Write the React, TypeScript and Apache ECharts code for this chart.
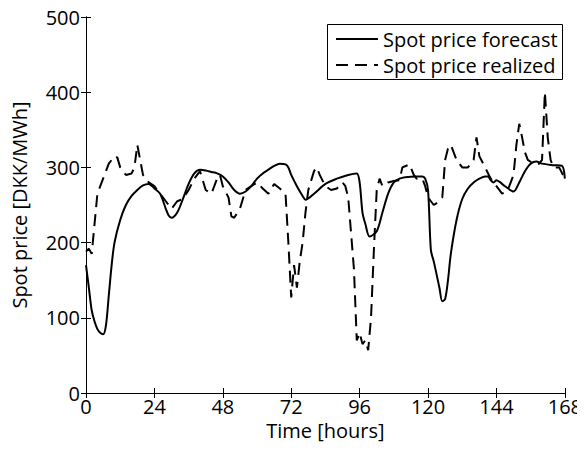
import React, { useEffect, useRef } from "react";
import * as echarts from "echarts";

const xTicks = [0, 24, 48, 72, 96, 120, 144, 168];
const yTicks = [0, 100, 200, 300, 400, 500];

const forecastHours = [0, 1, 2, 3, 4, 5, 6, 7, 8, 9, 10, 12, 14, 16, 18, 20, 22, 24, 26, 28, 29, 30, 32, 34, 36, 38, 40, 42, 44, 46, 48, 50, 52, 54, 56, 58, 60, 62, 64, 66, 68, 70, 71, 72, 74, 76, 77, 80, 84, 88, 92, 95, 96, 97, 98, 99.5, 102, 104, 106, 108, 110, 112, 116, 118, 119, 120, 121, 122, 124, 125, 126, 127, 128, 130, 132, 134, 136, 138, 140, 141, 142, 143, 144, 145, 147, 150, 152, 154, 156, 158, 160, 164, 167, 168];
const forecastValues = [170, 140, 110, 95, 85, 80, 78, 90, 130, 170, 200, 230, 250, 262, 270, 276, 278, 272, 265, 245, 236, 233, 240, 258, 278, 292, 297, 296, 294, 292, 288, 280, 270, 265, 268, 275, 285, 292, 297, 302, 305, 304, 300, 290, 275, 262, 257, 265, 278, 285, 290, 292, 280, 240, 225, 208, 215, 240, 265, 280, 285, 287, 288, 288, 285, 270, 190, 175, 140, 122, 125, 150, 185, 230, 258, 272, 280, 285, 288, 288, 283, 280, 283, 281, 275, 268, 280, 295, 305, 308, 305, 303, 302, 285];

const realizedHours = [0, 1, 2, 3, 4, 5, 6, 8, 10, 11, 12, 14, 16, 17, 18, 19, 20, 22, 24, 26, 28, 30, 32, 34, 36, 38, 40, 42, 44, 46, 47, 48, 50, 51, 52, 54, 56, 58, 60, 62, 64, 66, 68, 70, 71, 72, 73, 74, 75, 76, 77, 78, 80, 81, 82, 84, 86, 88, 90, 91, 92, 94, 95, 96, 97, 98, 99, 100, 101, 102, 103, 104, 106, 108, 110, 111, 113.5, 115, 116, 118, 119, 120, 121, 122, 124, 125, 126, 127, 128, 129, 130, 132, 134, 136, 137, 138, 140, 142, 144, 146, 148, 150, 151, 152, 153, 154, 155, 157, 159, 160, 161, 162, 163, 164, 166, 168];
const realizedValues = [188, 192, 185, 225, 265, 275, 285, 305, 315, 313, 300, 290, 292, 300, 330, 310, 290, 280, 275, 265, 255, 245, 255, 258, 270, 285, 295, 270, 265, 285, 290, 275, 260, 235, 233, 245, 270, 275, 280, 272, 265, 278, 272, 265, 200, 127, 170, 140, 175, 200, 240, 270, 295, 300, 290, 275, 270, 272, 280, 275, 260, 165, 70, 80, 65, 70, 57, 100, 190, 270, 285, 275, 280, 282, 283, 300, 304, 290, 285, 285, 275, 260, 255, 250, 255, 260, 310, 325, 330, 320, 310, 300, 300, 310, 340, 315, 300, 285, 275, 265, 270, 290, 330, 358, 340, 320, 310, 305, 305, 310, 400, 340, 310, 300, 300, 285];

const seriesNames = ["Spot price forecast", "Spot price realized"];

const FONT = "Open Sans";
const FS = 20;

export default function App() {
  const ref = useRef<HTMLDivElement>(null);
  useEffect(() => {
    if (!ref.current) return;
    const chart = echarts.init(ref.current, undefined, { renderer: "svg" });
    const forecast = forecastHours.map((h, i) => [h, forecastValues[i]]);
    const realized = realizedHours.map((h, i) => [h, realizedValues[i]]);
    const axisCommon = {
      type: "value" as const,
      axisLine: { show: true, lineStyle: { color: "#000", width: 1 } },
      axisTick: { show: true, inside: true, length: 5, lineStyle: { color: "#000" } },
      splitLine: { show: false },
    };
    chart.setOption({
      animation: false,
      backgroundColor: "#fff",
      grid: { left: 86, right: 16, top: 17, bottom: 57, containLabel: false },
      xAxis: [
        {
          ...axisCommon,
          min: xTicks[0],
          max: xTicks[xTicks.length - 1],
          interval: 24,
          position: "bottom",
          axisLabel: { color: "#000", fontSize: FS, fontFamily: FONT, margin: 3 },
          name: "Time [hours]",
          nameLocation: "middle",
          nameGap: 26,
          nameTextStyle: { color: "#000", fontSize: FS, fontFamily: FONT },
        },
        {
          ...axisCommon,
          min: xTicks[0],
          max: xTicks[xTicks.length - 1],
          interval: 24,
          position: "top",
          axisLabel: { show: false },
        },
      ],
      yAxis: [
        {
          ...axisCommon,
          min: yTicks[0],
          max: yTicks[yTicks.length - 1],
          interval: 100,
          position: "left",
          axisLabel: { color: "#000", fontSize: FS, fontFamily: FONT, margin: 6 },
          name: "Spot price [DKK/MWh]",
          nameLocation: "middle",
          nameGap: 57,
          nameTextStyle: { color: "#000", fontSize: FS, fontFamily: FONT },
        },
        {
          ...axisCommon,
          min: yTicks[0],
          max: yTicks[yTicks.length - 1],
          interval: 100,
          position: "right",
          axisLabel: { show: false },
        },
      ],
      series: [
        {
          name: seriesNames[0],
          type: "line",
          data: forecast,
          showSymbol: false,
          smooth: 0.3,
          lineStyle: { color: "#000", width: 2 },
        },
        {
          name: seriesNames[1],
          type: "line",
          data: realized,
          showSymbol: false,
          lineStyle: { color: "#000", width: 2, type: [12, 7] },
        },
      ],
      graphic: [
        {
          type: "rect",
          shape: { x: 327.5, y: 24.5, width: 235, height: 55 },
          style: { fill: "#fff", stroke: "#000", lineWidth: 1 },
          z: 100,
        },
        {
          type: "line",
          shape: { x1: 336, y1: 39, x2: 378, y2: 39 },
          style: { stroke: "#000", lineWidth: 2 },
          z: 101,
        },
        {
          type: "line",
          shape: { x1: 336, y1: 65, x2: 378, y2: 65 },
          style: { stroke: "#000", lineWidth: 2, lineDash: [12, 7] },
          z: 101,
        },
        {
          type: "text",
          x: 383,
          y: 39,
          style: { text: seriesNames[0], fill: "#000", fontSize: FS, fontFamily: FONT, verticalAlign: "middle" },
          z: 101,
        },
        {
          type: "text",
          x: 383,
          y: 65,
          style: { text: seriesNames[1], fill: "#000", fontSize: FS, fontFamily: FONT, verticalAlign: "middle" },
          z: 101,
        },
      ],
    });
    return () => chart.dispose();
  }, []);
  return <div ref={ref} style={{ width: 585, height: 450, margin: -8 }} />;
}
